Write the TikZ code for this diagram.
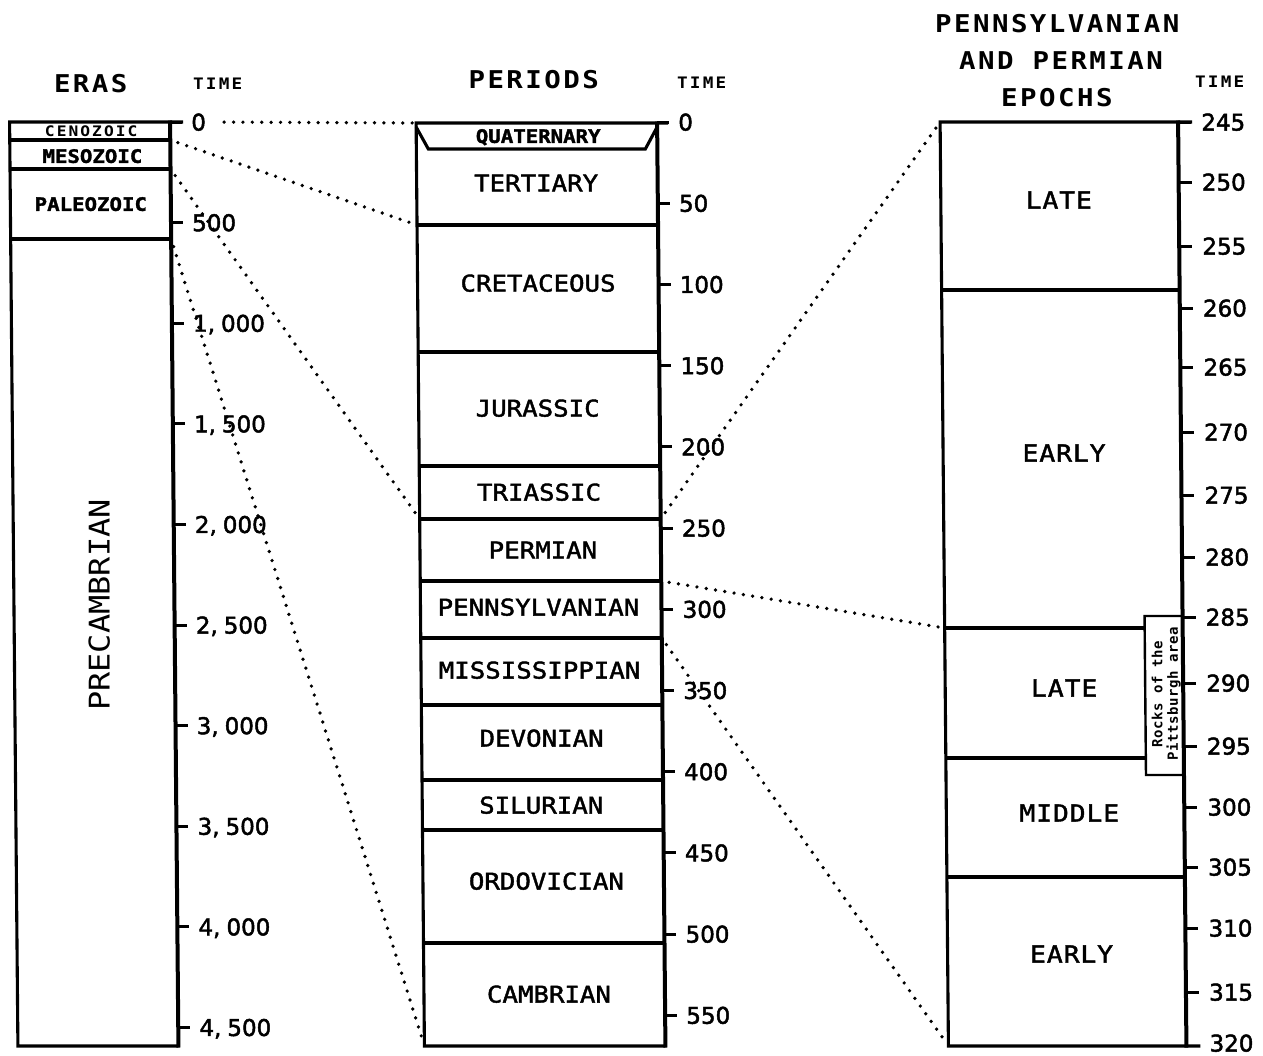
\documentclass[tikz,border=0pt]{standalone}
\usepackage{fontspec}
\newfontfamily\plfont[FakeStretch=1.12,FakeBold=1.8]{DejaVu Sans Mono}
\newfontfamily\thinfont[FakeStretch=1.12]{DejaVu Sans Mono}
\newfontfamily\titlefont[FakeStretch=1.12,LetterSpace=10]{DejaVu Sans Mono}
\newfontfamily\timefont[FakeStretch=1.12,LetterSpace=14]{DejaVu Sans Mono}
\newfontfamily\epofont[FakeStretch=1.12,LetterSpace=4,FakeBold=1.8]{DejaVu Sans Mono}
\newfontfamily\numfont[FakeBold=2]{DejaVu Sans}
\newfontfamily\rockfont[LetterSpace=4]{DejaVu Sans Mono}
\newcommand\thsep{,\kern6pt}
\begin{document}
\begin{tikzpicture}[x=1pt,y=-1pt,
  gBox/.style={line width=3.1pt},
  gAxis/.style={line width=4pt},
  gTick/.style={line width=3pt},
  gDots/.style={line width=3.7pt, line cap=round, dash pattern=on 0pt off 9.4pt},
  gLbl/.style={inner sep=0pt, text depth=0pt},
  gNum/.style={gLbl, anchor=west, font=\numfont\fontsize{23}{26}\selectfont},
  gTitle/.style={gLbl, font=\titlefont\bfseries\fontsize{24.5}{28}\selectfont},
  gTime/.style={gLbl, font=\timefont\bfseries\fontsize{15.8}{18}\selectfont},
  gPer/.style={gLbl, font=\plfont\fontsize{23}{26}\selectfont},
  gEra/.style={gLbl, font=\plfont\bfseries\fontsize{18.5}{22}\selectfont},
  gEpo/.style={gLbl, font=\epofont\fontsize{23.5}{26}\selectfont}]
\useasboundingbox (0,0) rectangle (1263,1055);
\fill[white] (0,0) rectangle (1263,1055);
\begin{scope}[xslant=-0.009]
% ---------- named boundary points ----------
\coordinate (eCM) at (169,140);
\coordinate (eMP) at (169,169);
\coordinate (ePP) at (169,239);
\coordinate (pTL) at (415,123);
\coordinate (pTC) at (415,225);
\coordinate (pTP) at (415,519);
\coordinate (pBL) at (415,1046);
\coordinate (pTPr) at (656,519);
\coordinate (pPPr) at (656,581);
\coordinate (pPMr) at (656,638);
\coordinate (xTL) at (939,122);
\coordinate (xPP) at (939,628);
\coordinate (xBL) at (939,1046);

% ---------- ERAS ----------
\node[gTitle] (tEras) at (90,83) {ERAS};
\node[gTime] (tEraTime) at (217,84) {TIME};
\draw[gBox] (182,122) -- (8.5,122) -- (8.5,1046) -- (169,1046);
\foreach \y in {140,169,239} \draw[gBox] (8.5,\y) -- (169,\y);
\foreach \y/\t [count=\i] in {122/0, 222.6/500, 323.2/1\thsep000, 423.8/1\thsep500,
    524.4/2\thsep000, 625/2\thsep500, 725.6/3\thsep000, 826.2/3\thsep500,
    926.8/4\thsep000, 1027.4/4\thsep500} {
  \draw[gTick] (169,\y) -- (181,\y);
  \node[gNum] (el\i) at (190,\y) {\t};
}
\draw[gAxis] (169,120.5) -- (169,1047.5);
\node[gLbl, font=\timefont\bfseries\fontsize{14.5}{17}\selectfont] (cen) at (90,131.5) {CENOZOIC};
\node[gEra] (mes) at (91,156) {MESOZOIC};
\node[gEra] (pal) at (89,204) {PALEOZOIC};
\node[gLbl, font=\thinfont\fontsize{28.5}{32}\selectfont, rotate=90] (pre) at (93.5,605) {PRECAMBRIAN};

% ---------- PERIODS ----------
\node[gTitle] (tPer) at (533,79) {PERIODS};
\node[gTime] (tPerTime) at (701,83) {TIME};
\draw[gBox] (667,123) -- (415,123) -- (415,1046) -- (656,1046);
\draw[gBox] (415,127) -- (427,149) -- (644,149) -- (656,127);
\foreach \y in {225,352,466,519,581,638,705,780,830,943} \draw[gBox] (415,\y) -- (656,\y);
\foreach \y/\t [count=\i] in {122/0, 203.2/50, 284.4/100, 365.6/150, 446.8/200, 528/250,
    609.2/300, 690.4/350, 771.6/400, 852.8/450, 934/500, 1015.2/550} {
  \draw[gTick] (656,\y) -- (668,\y);
  \node[gNum] (pl\i) at (677,\y) {\t};
}
\draw[gAxis] (656,121.5) -- (656,1047.5);
\node[gEra] (qua) at (537,136) {QUATERNARY};
\node[gPer] (ter) at (534.5,183) {TERTIARY};
\node[gPer] (cre) at (535.5,283) {CRETACEOUS};
\node[gPer] (jur) at (534,408) {JURASSIC};
\node[gPer] (tri) at (534.6,492) {TRIASSIC};
\node[gPer] (per) at (538,550) {PERMIAN};
\node[gPer] (pen) at (533,607) {PENNSYLVANIAN};
\node[gPer] (mis) at (533.5,670) {MISSISSIPPIAN};
\node[gPer] (dev) at (535,738) {DEVONIAN};
\node[gPer] (sil) at (534,805) {SILURIAN};
\node[gPer] (ord) at (538.5,881) {ORDOVICIAN};
\node[gPer] (cam) at (540,994) {CAMBRIAN};

% ---------- EPOCHS ----------
\node[gTitle] (tEp1) at (1057,23) {PENNSYLVANIAN};
\node[gTitle] (tEp2) at (1060.5,61) {AND PERMIAN};
\node[gTitle] (tEp3) at (1056,97) {EPOCHS};
\node[gTime] (tEpTime) at (1219,82) {TIME};
\draw[gBox] (1191,122) -- (939,122) -- (939,1046) -- (1191,1046);
\foreach \y in {290,628,758,877} \draw[gBox] (939,\y) -- (1177,\y);
\foreach \y/\t [count=\i] in {122/245, 182/250, 246/255, 308/260, 367/265, 432/270,
    495/275, 557/280, 617/285, 683/290, 746/295, 807/300, 867/305, 928/310,
    992/315} {
  \draw[gTick] (1177,\y) -- (1190,\y);
  \node[gNum] (xl\i) at (1200,\y) {\t};
}
\node[gNum] (xl16) at (1200,1043) {320};
\draw[line width=2.4pt, fill=white] (1139,616) rectangle (1177,775);
\node[gLbl, font=\rockfont\bfseries\fontsize{14}{15.5}\selectfont, rotate=90, align=center]
  (rocks) at (1158.5,694) {Rocks of the\\Pittsburgh area};
\draw[gAxis] (1177,120.5) -- (1177,1047.5);
\node[gEpo] (lateP) at (1057,200) {LATE};
\node[gEpo] (earlyP) at (1060,453) {EARLY};
\node[gEpo] (latePn) at (1058,688) {LATE};
\node[gEpo] (midPn) at (1062,813) {MIDDLE};
\node[gEpo] (earlyPn) at (1063,954) {EARLY};

% ---------- dotted connectors ----------
\draw[gDots, shorten <=18pt, shorten >=3pt] (el1.east) -- (pTL);
\draw[gDots, shorten <=8pt, shorten >=3pt] (eCM) -- (pTC);
\draw[gDots, shorten <=8pt, shorten >=3pt] (eMP) -- (pTP);
\draw[gDots, shorten <=8pt, shorten >=3pt] (ePP) -- (pBL);
\draw[gDots, shorten <=8pt, shorten >=3pt] (pTPr) -- (xTL);
\draw[gDots, shorten <=8pt, shorten >=3pt] (pPPr) -- (xPP);
\draw[gDots, shorten <=8pt, shorten >=3pt] (pPMr) -- (xBL);
\end{scope}
\end{tikzpicture}
\end{document}
